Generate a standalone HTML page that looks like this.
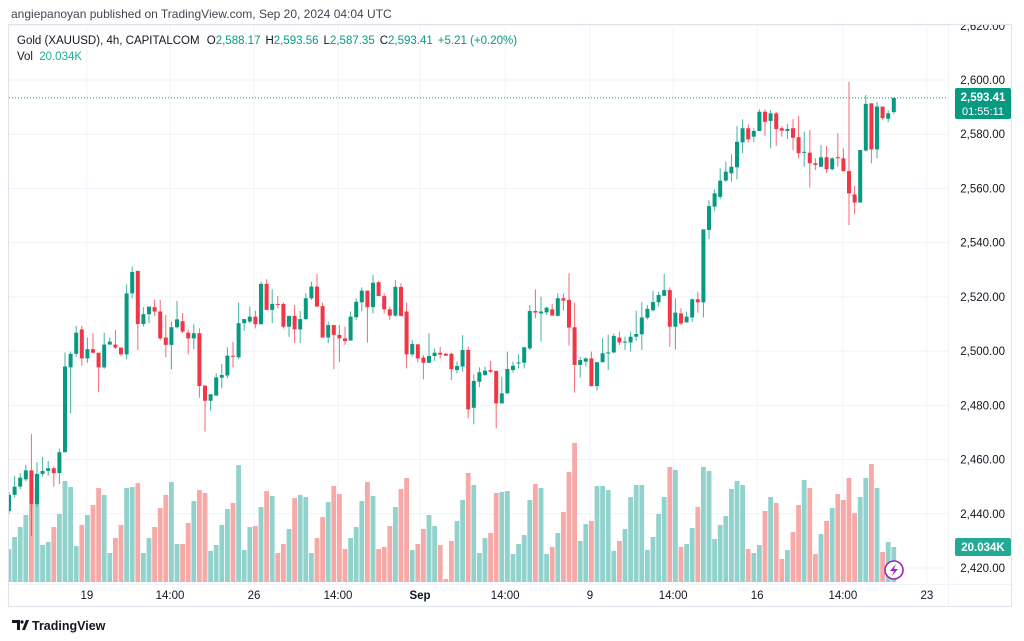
<!DOCTYPE html>
<html><head><meta charset="utf-8">
<style>
html,body{margin:0;padding:0;background:#fff;width:1024px;height:641px;overflow:hidden}
svg{display:block;font-family:"Liberation Sans",sans-serif}
</style></head>
<body>
<svg id="chart" width="1024" height="641" viewBox="0 0 1024 641">
  <text x="11" y="18" font-size="12" fill="#434651">angiepanoyan published on TradingView.com, Sep 20, 2024 04:04 UTC</text>
  <rect x="8.5" y="24.5" width="1003" height="582" fill="none" stroke="#e0e3eb"/>
  <g id="grid"></g>
  <g id="vol"></g>
  <g id="candles"></g>
  <g id="yaxis"></g>
  <g id="xaxis"></g>
  <g>
    <text x="17" y="44" font-size="11.5" fill="#131722">Gold (XAUUSD), 4h, CAPITALCOM <tspan dx="4">O</tspan><tspan fill="#089981">2,588.17</tspan><tspan dx="5">H</tspan><tspan fill="#089981">2,593.56</tspan><tspan dx="5">L</tspan><tspan fill="#089981">2,587.35</tspan><tspan dx="5">C</tspan><tspan fill="#089981">2,593.41</tspan><tspan dx="5" fill="#089981">+5.21 (+0.20%)</tspan></text>
    <text x="17" y="60" font-size="11.5" fill="#131722">Vol <tspan dx="3" fill="#22ab94">20.034K</tspan></text>
  </g>
  <g>
    <rect x="955" y="88" width="56" height="31" rx="2" fill="#089981"/>
    <text x="983" y="101" font-size="11.5" fill="#fff" text-anchor="middle" font-weight="bold">2,593.41</text>
    <text x="983" y="115" font-size="11" fill="#fff" text-anchor="middle">01:55:11</text>
  </g>
  <g>
    <rect x="955" y="538" width="56" height="18" rx="2" fill="#22ab94"/>
    <text x="983" y="551" font-size="11.5" fill="#fff" text-anchor="middle" font-weight="bold">20.034K</text>
  </g>
  <g>
    <circle cx="894" cy="570" r="9" fill="#fff" stroke="#9c27b0" stroke-width="1.6"/>
    <path d="M896 564 L890 571 L894 571 L892 576 L898 569 L894 569 Z" fill="#9c27b0"/>
  </g>
  <g>
    <path d="M12 620 h8 v10 h-3 v-7 h-5z M22 630 l4 -10 h3 l-4 10z" fill="#131722"/>
    <circle cx="22" cy="622" r="1.6" fill="#131722"/>
    <text x="32" y="630" font-size="12.5" font-weight="bold" fill="#131722">TradingView</text>
  </g>
</svg>
<script>
const opens=[2441,2447,2450,2452.7,2456,2443.6,2454.7,2455.8,2456.8,2455,
2462.7,2494,2499,2508,2497.3,2500.7,2499.4,2494,2502.4,2502.4,
2501.3,2498.8,2521.3,2529.6,2510,2513.6,2516.2,2514.6,2505,2502.3,
2508.8,2511,2506.8,2504.7,2506.6,2487.3,2481.7,2483.6,2490.2,2491,
2498.3,2497.7,2510.3,2510.9,2512.7,2509.9,2524.8,2515.2,2517.4,2517.4,
2509,2513,2508,2511.8,2519.5,2523.8,2516.6,2505,2509.6,2506,
2504.7,2503.9,2512.5,2518,2522.3,2516.2,2525.4,2520.3,2515.4,2513.1,
2523.7,2514.6,2498.8,2502.5,2497.6,2495.7,2498.2,2499.4,2499,2499,
2493,2494.3,2500.4,2479.1,2488.7,2491.2,2493,2492.7,2480.7,2484.4,
2493,2495.6,2495.7,2501,2514.8,2513.9,2514.3,2515.4,2513,2519.5,
2518.9,2508.8,2494.9,2496.1,2497.3,2487.1,2495.9,2499.2,2499.5,2505,
2503.2,2503.2,2505.3,2506.2,2512.3,2515.1,2518,2520.4,2522.5,2509,
2513.9,2510.6,2512.4,2519.1,2518,2544.7,2553.3,2556.9,2562.9,2565.6,
2567.8,2577,2582.2,2579.1,2581.2,2588.3,2584.9,2587.7,2582.2,2581.2,
2582.2,2578.9,2573.3,2573.2,2569.3,2568,2571.5,2567.1,2571.5,2571.1,
2566.4,2557.8,2554.8,2574,2591.4,2574.4,2590.2,2585.7,2588.17];
const highs=[2448,2454,2455,2458,2469.4,2459,2461,2459.5,2457.4,2464,
2499.5,2499.8,2509.3,2509.3,2505,2506.6,2499.4,2506.8,2505,2507.8,
2501.3,2524.6,2531.2,2529.6,2516.2,2516.4,2519,2518.9,2513.3,2510.9,
2518.5,2514,2508,2509.9,2508.4,2487.3,2484.1,2491.8,2495.3,2501.4,
2503.5,2517.9,2511.8,2516.4,2514.9,2525.6,2526.5,2522.8,2520.3,2517.9,
2513,2517,2514.8,2521.3,2525.6,2528.4,2517.9,2510.9,2509.6,2509.6,
2509,2514.6,2519.5,2523.5,2522.3,2528.1,2525.9,2521.3,2516.4,2526.2,
2525,2517.9,2504.1,2502.5,2498.6,2506.6,2501,2501.6,2499.4,2499.4,
2496.1,2505.9,2501.6,2491.4,2494,2494.3,2496.4,2492.7,2490.6,2499.8,
2496.1,2498.8,2501.6,2517,2522.8,2520.1,2516.4,2517.4,2521.3,2521.3,
2528.7,2517.9,2497.9,2497.7,2499.8,2495.9,2504.7,2506,2506.5,2507.2,
2505.3,2507.2,2514.9,2518,2517,2522.2,2521.9,2528.4,2523.5,2519.5,
2515.8,2514.5,2519.5,2521.9,2544.9,2555.7,2559.7,2567.4,2569.9,2572.6,
2583,2585.5,2583.6,2582.2,2589.2,2589.2,2588.9,2588.3,2583,2583.8,
2585.5,2586.7,2581,2581.6,2571.1,2576,2575.7,2571.5,2580.3,2574.8,
2599.4,2560.9,2574.2,2594.5,2591.4,2592,2590.2,2588.9,2593.56];
const lows=[2440,2446,2449,2452,2431.8,2442.6,2453.7,2454,2450,2451,
2462.7,2477,2497.7,2494.6,2495.7,2499.2,2485,2493.5,2502.4,2500.8,
2498.2,2497,2519.5,2500.4,2509,2510.3,2513,2503.9,2497.7,2493.3,
2508.4,2506.6,2498.8,2500.7,2482.8,2470.3,2478,2483.6,2486.3,2490,
2494,2497,2507.5,2510.3,2508.4,2509.9,2515.2,2510.3,2515.8,2508.4,
2505.3,2503,2503,2511.5,2518.9,2516.4,2505,2502.9,2493.3,2495.9,
2502.3,2503.9,2511.5,2514.6,2503.1,2513.9,2520.3,2513.9,2511.5,2512.7,
2512.7,2493.6,2498,2495.9,2489.6,2495.5,2496.4,2497.3,2498.3,2489.3,
2491.8,2492.4,2475.2,2473,2486.7,2490.8,2492,2471.5,2480.7,2484.4,
2492.1,2493.6,2493.6,2500.4,2512.1,2503.5,2513.3,2513.1,2512.7,2514.9,
2502,2484.7,2490.2,2494.3,2486.9,2485.4,2495.9,2493,2499.2,2502.2,
2500.4,2499.8,2503.8,2500.4,2511.7,2514.5,2516.4,2520.3,2501.6,2500.6,
2509.6,2510.6,2510.8,2514.2,2512.4,2541.3,2551.7,2556,2562.5,2562.5,
2563.3,2573,2576.9,2577.2,2581.2,2579.4,2574.8,2575.7,2579.1,2578.1,
2574.2,2571.1,2568,2560.3,2566.8,2568,2565.6,2566.6,2568,2566.2,
2546.5,2550.6,2554.8,2573.6,2569.3,2571.1,2585.3,2584.4,2587.35];
const closes=[2447,2450,2453.3,2456,2443.6,2454.7,2455.8,2456.8,2455,2462.7,
2494.3,2499,2506.8,2497.3,2500.7,2499.4,2494,2502.4,2503.5,2501.3,
2498.8,2521.3,2529.2,2510,2513.6,2516.4,2514.6,2504.7,2502.3,2508.8,
2511.7,2507.2,2504.7,2506.6,2487.1,2481.7,2484.1,2490.3,2491.2,2498.3,
2498,2510.3,2511.8,2512.7,2509.9,2524.8,2515.2,2517.4,2517.2,2509,
2513,2508,2511.8,2519.5,2523.8,2516.4,2505,2509.6,2506,2504.7,
2503.7,2512.7,2518.2,2522.3,2516.2,2525.2,2520.3,2515.4,2513.1,2523.7,
2513,2498.8,2502.6,2497.3,2495.7,2498.2,2499.4,2498.7,2498.3,2493.3,
2494.5,2500.4,2478.5,2489,2492.2,2492.8,2492.4,2480.7,2484.4,2493.4,
2494.6,2495.8,2501.4,2514.8,2514.2,2514.6,2516,2513.1,2519.5,2518.6,
2508.7,2494.9,2496.7,2497.3,2487.1,2495.9,2499.2,2499.5,2505.6,2503.2,
2503.5,2505.3,2506.3,2512.4,2515.6,2518.1,2520.7,2522.5,2509,2514.2,
2510.2,2512.7,2519.1,2518,2544.9,2553.5,2558.2,2562.9,2566.2,2568,
2577.2,2582.2,2578.1,2581.2,2588.3,2584.6,2587.7,2581.9,2581.3,2581.9,
2578.7,2573,2573.5,2569.3,2568.7,2571.5,2567.1,2571.1,2571.1,2566.4,
2558.2,2554.8,2574.2,2591.2,2574.4,2590.2,2585.9,2587.7,2593.41];
const volumesK=[18.9,25.8,31.5,38.4,44.7,53.9,21.2,22.9,31.5,39.0,
57.9,54.4,20.6,32.7,38.4,44.1,53.9,49.9,16.6,25.2,
32.7,53.9,54.4,56.7,16.6,25.2,31.5,42.4,49.9,57.3,
21.8,21.8,33.8,46.4,52.7,51.0,17.8,21.2,32.7,41.8,
45.3,67.0,18.3,31.5,32.1,43.0,52.1,49.3,16.6,21.8,
30.4,48.1,49.9,48.7,16.6,25.2,37.2,45.8,55.0,50.4,
18.9,25.2,31.5,46.4,57.3,49.3,18.9,20.1,32.1,43.0,
53.3,59.6,18.3,21.8,30.4,38.4,32.1,21.2,1.7,23.5,
35.0,47.0,62.5,55.6,16.6,25.2,28.1,51.0,51.6,52.1,
16.0,21.8,26.9,47.0,56.2,53.9,16.0,20.1,28.1,40.1,
63.0,79.7,23.5,33.2,35.0,55.0,55.0,52.7,17.8,23.5,
30.4,48.7,55.6,55.6,18.3,25.8,39.0,48.7,65.9,64.2,
20.1,21.8,30.9,43.0,65.9,63.6,24.6,32.7,37.8,53.3,
57.9,55.6,18.9,16.6,21.2,40.7,48.7,45.3,13.2,18.3,
28.7,44.1,58.5,53.9,16.0,27.5,35.0,42.4,50.4,47.0,
59.6,39.5,48.7,59.6,67.6,53.9,17.2,22.9,20.034];
const priceTicks=[2620,2600,2580,2560,2540,2520,2500,2480,2460,2440,2420];
const timeTickLabels=["19","14:00","26","14:00","Sep","14:00","9","14:00","16","14:00","23"];
const timeTickIdx=[13.9,28.75,43.75,58.75,73.4,88.6,103.75,118.6,133.6,148.9,163.9];
const lastPrice=2593.41;

const NS="http://www.w3.org/2000/svg";
const X0=9, STEP=5.6, PLOT_R=948, PLOT_T=25, PLOT_B=584;
const xOf=i=>X0+STEP*i;
const yOf=p=>80+(2600-p)*2.711;
const VOL_BASE=582, VOL_K=1.745;
const yVol=v=>VOL_BASE-v*VOL_K;
function mk(tag,attrs,parent){const e=document.createElementNS(NS,tag);for(const k in attrs)e.setAttribute(k,attrs[k]);parent.appendChild(e);return e;}

const svg=document.getElementById('chart');
const defs=mk('defs',{},svg);
const cp=mk('clipPath',{id:'plotclip'},defs);
mk('rect',{x:9,y:PLOT_T,width:PLOT_R-9,height:PLOT_B-PLOT_T},cp);
const cp2=mk('clipPath',{id:'axisclip'},defs);
mk('rect',{x:PLOT_R,y:PLOT_T,width:70,height:PLOT_B-PLOT_T},cp2);

const grid=document.getElementById('grid');
priceTicks.forEach(p=>{
  const l=mk('line',{x1:9,x2:PLOT_R,y1:yOf(p),y2:yOf(p),stroke:'#f0f3fa','stroke-width':1},grid);
  
  
});
timeTickIdx.forEach(t=>{
  const l=mk('line',{x1:xOf(t),x2:xOf(t),y1:PLOT_T,y2:PLOT_B,stroke:'#f0f3fa','stroke-width':1},grid);
  
  
});
mk('line',{x1:PLOT_R+0.5,x2:PLOT_R+0.5,y1:PLOT_T,y2:606,stroke:'#f0f3fa'},grid);
mk('line',{x1:9,x2:1011,y1:PLOT_B+0.5,y2:PLOT_B+0.5,stroke:'#f0f3fa'},grid);

const vol=document.getElementById('vol');
vol.setAttribute('clip-path','url(#plotclip)');
volumesK.forEach((v,i)=>{
  const up=closes[i]>=opens[i];
  const r=mk('rect',{x:xOf(i)-2.4,y:yVol(v),width:4.8,height:VOL_BASE-yVol(v),fill:up?'#92d2cc':'#f7a9a7'},vol);
  
  
});

const cg=document.getElementById('candles');
cg.setAttribute('clip-path','url(#plotclip)');
const dl=mk('line',{x1:9,x2:PLOT_R,y1:yOf(lastPrice),y2:yOf(lastPrice),stroke:'#089981','stroke-width':1,'stroke-dasharray':'1 2'},cg);


opens.forEach((o,i)=>{
  const c=closes[i], up=c>=o, col=up?'#089981':'#f23645';
  const g=mk('g',{},cg);
  
  
  const x=xOf(i);
  mk('line',{x1:x,x2:x,y1:yOf(highs[i]),y2:yOf(lows[i]),stroke:col,'stroke-width':1,opacity:0.75},g);
  const top=yOf(Math.max(o,c)), bot=yOf(Math.min(o,c));
  mk('rect',{x:x-2,y:top,width:4,height:Math.max(1,bot-top),fill:col},g);
});

const ya=document.getElementById('yaxis');
ya.setAttribute('clip-path','url(#axisclip)');
priceTicks.forEach(p=>{
  const t=mk('text',{x:1005,y:yOf(p)+4,'font-size':11.5,fill:'#131722','text-anchor':'end'},ya);
  t.textContent=p.toLocaleString('en-US',{minimumFractionDigits:2});
  
  
});

const xa=document.getElementById('xaxis');
timeTickLabels.forEach((s,k)=>{
  const t=mk('text',{x:xOf(timeTickIdx[k]),y:599,'font-size':11.5,fill:'#131722','text-anchor':'middle','font-weight':s==='Sep'?'bold':'normal'},xa);
  t.textContent=s;
  
  
});
</script>
</body></html>
